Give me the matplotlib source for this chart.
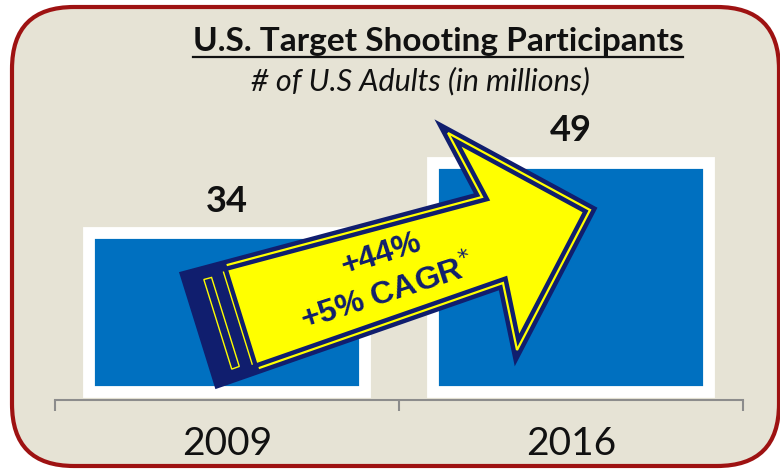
import numpy as np
import matplotlib
matplotlib.use('Agg')
import matplotlib.pyplot as plt
from matplotlib.patches import FancyBboxPatch, Polygon

plt.rcParams['font.family'] = ['Lato', 'DejaVu Sans']

# data
years = ['2009', '2016']
adults = [34, 49]
growth_text = '+44%'
cagr_text = '+5% CAGR'

BAR_BLUE = '#0070C0'
NAVY = '#101E6E'
YELLOW = '#FFFF00'
BEIGE = '#E6E3D5'
RED = '#9E1212'
GRAY = '#8C8C8C'

W, H = 780, 470
fig = plt.figure(figsize=(W / 100, H / 100), dpi=100)
fig.patch.set_facecolor('white')

# background layer in pixel coordinates (y down)
bg = fig.add_axes([0, 0, 1, 1], zorder=0)
bg.set_xlim(0, W)
bg.set_ylim(H, 0)
bg.axis('off')
bg.add_patch(FancyBboxPatch((12, 7), 767, 459, boxstyle='round,pad=0,rounding_size=62',
                            fc=BEIGE, ec=RED, lw=3))

title = bg.text(438, 41, 'U.S. Target Shooting Participants', ha='center', va='center',
                fontsize=24, fontweight='bold', color='#111111')
bg.text(420, 81, '# of U.S Adults (in millions)', ha='center', va='center',
        fontsize=22, fontstyle='italic', color='#111111')

# bar chart
ax = fig.add_axes([55 / W, (H - 400) / H, 688 / W, 300 / H], zorder=1)
ax.set_facecolor('none')
x = np.arange(len(years))
bars = ax.bar(x, adults, width=0.8, color=BAR_BLUE, edgecolor='white', linewidth=8.5,
              joinstyle='miter')
ax.bar_label(bars, labels=[str(v) for v in adults], padding=11, fontsize=26,
             fontweight='bold', color='#111111')
ax.set_xlim(-0.5, len(years) - 0.5)
ax.set_ylim(-1.7, 62.4)
for s in ['top', 'left', 'right']:
    ax.spines[s].set_visible(False)
ax.spines['bottom'].set_color(GRAY)
ax.spines['bottom'].set_linewidth(1.5)
ax.set_yticks([])
ax.set_xticks(np.arange(len(years) + 1) - 0.5)
ax.set_xticklabels([])
ax.tick_params(axis='x', which='major', length=8, width=1.5, color=GRAY, direction='out')
ax.set_xticks(x, minor=True)
ax.set_xticklabels(years, minor=True, fontsize=28, color='#111111')
ax.tick_params(axis='x', which='minor', length=0, pad=19)

# arrow overlay (pixel coordinates)
ov = fig.add_axes([0, 0, 1, 1], zorder=2)
ov.set_facecolor('none')
ov.set_xlim(0, W)
ov.set_ylim(H, 0)
ov.axis('off')

A = np.array([186, 276]); B = np.array([482, 197]); C = np.array([448, 133])
D = np.array([590, 210]); E = np.array([517, 350]); F = np.array([503, 283])
G = np.array([219, 382])
pts = np.array([A, B, C, D, E, F, G])
ov.add_patch(Polygon(pts, closed=True, fc=YELLOW, ec=NAVY, lw=8, joinstyle='miter'))
ov.add_patch(Polygon(pts, closed=True, fill=False, ec=YELLOW, lw=1.6, joinstyle='miter'))

ut = (B - A) / np.linalg.norm(B - A)
ub = (F - G) / np.linalg.norm(F - G)
tail = np.array([A, A + 40 * ut, G + 40 * ub, G])
ov.add_patch(Polygon(tail, closed=True, fc=NAVY, ec=NAVY, lw=3, joinstyle='miter'))
side = (G - A) / np.linalg.norm(G - A)
stripe = np.array([A + 16 * ut + 8 * side, A + 24 * ut + 8 * side,
                   G + 24 * ub - 8 * side, G + 16 * ub - 8 * side])
ov.add_patch(Polygon(stripe, closed=True, fill=False, ec=YELLOW, lw=1.0))
edge_line = np.array([A + 37 * ut + 6 * side, G + 37 * ub - 6 * side])
ov.plot(edge_line[:, 0], edge_line[:, 1], color=YELLOW, lw=1.0)

ov.text(381, 255, growth_text, ha='center', va='center', rotation=18,
        rotation_mode='anchor', fontsize=23, fontweight='bold', color=NAVY,
        family=['Liberation Sans', 'DejaVu Sans'])
ov.text(388, 293, cagr_text + r'$^{*}$', ha='center', va='center', rotation=18,
        rotation_mode='anchor', fontsize=23, fontweight='bold', color=NAVY,
        family=['Liberation Sans', 'DejaVu Sans'])

# underline for title
fig.canvas.draw()
bb = title.get_window_extent().transformed(bg.transData.inverted())
x0, x1 = sorted([bb.x0, bb.x1])
bg.plot([x0, x1], [57, 57], color='#111111', lw=1.6)

fig.savefig('out.png', dpi=100, facecolor='white')
